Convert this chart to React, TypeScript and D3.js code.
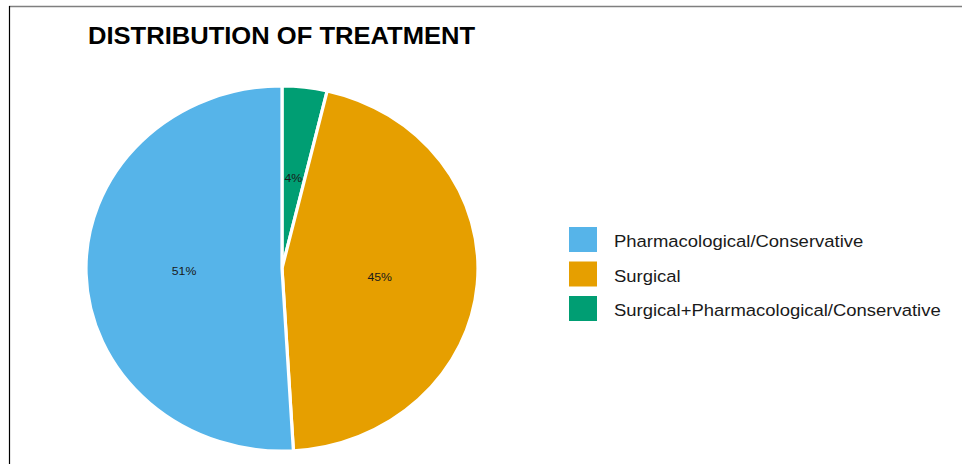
import { arc as d3Arc, pie as d3Pie, scaleOrdinal, type PieArcDatum } from "d3";

// values (counts give 50.9% / 45.4% / 3.7%)
const categories = [
  "Pharmacological/Conservative",
  "Surgical",
  "Surgical+Pharmacological/Conservative",
];
const counts = [55, 49, 4];
const sliceLabels = ["51%", "45%", "4%"];
const palette = ["#56B4E9", "#E69F00", "#009E73"];

const title = "DISTRIBUTION OF TREATMENT";

interface Slice {
  category: string;
  value: number;
  label: string;
}

const width = 962;
const height = 464;
const cx = 282;
const cy = 268.5;
const ry = 182.5;
// the source image is a little wider than tall, so everything is stretched in x
const sx = 196 / 182.5;

export default function App() {
  const slices: Slice[] = categories.map((c, i) => ({
    category: c,
    value: counts[i],
    label: sliceLabels[i],
  }));

  const color = scaleOrdinal<string, string>().domain(categories).range(palette);

  // clockwise from 12 o'clock: last category first, like ggplot's polar stack
  const pieGen = d3Pie<Slice>()
    .value((d) => d.value)
    .sort(null);
  const arcs = pieGen([...slices].reverse());

  const arcGen = d3Arc<PieArcDatum<Slice>>().innerRadius(0).outerRadius(ry);

  const legendX = 569;
  const legendY = 227;
  const legendStep = 34.5;

  return (
    <svg
      width={width}
      height={height}
      style={{ position: "absolute", left: 0, top: 0, background: "#fff" }}
      fontFamily="'Liberation Sans', Arial, sans-serif"
    >
      <line x1={9} x2={width} y1={6.5} y2={6.5} stroke="#7f7f7f" strokeWidth={1.4} />
      <line x1={9.5} x2={9.5} y1={6} y2={height} stroke="#000" strokeWidth={1.2} />

      <text
        transform={`translate(88,44) scale(${sx},1)`}
        fontSize={23.8}
        fontWeight="bold"
        fill="#000"
      >
        {title}
      </text>

      <g transform={`translate(${cx},${cy}) scale(${sx},1)`}>
        {arcs.map((a) => (
          <path
            key={a.data.category}
            d={arcGen(a) ?? ""}
            fill={color(a.data.category)}
            stroke="#fff"
            strokeWidth={3}
            strokeLinejoin="round"
          />
        ))}
      </g>

      {arcs.map((a) => {
        const [x, y] = arcGen.centroid(a);
        return (
          <text
            key={`lab-${a.data.category}`}
            transform={`translate(${cx + x * sx},${cy + y}) scale(${sx},1)`}
            textAnchor="middle"
            dy="0.36em"
            fontSize={11.4}
            fill="#1a1a1a"
          >
            {a.data.label}
          </text>
        );
      })}

      {categories.map((c, i) => (
        <g key={`leg-${c}`} transform={`translate(${legendX},${legendY + i * legendStep})`}>
          <rect width={28} height={25} fill={color(c)} />
          <text
            transform={`translate(45,20.3) scale(${sx},1)`}
            fontSize={17.2}
            fill="#1a1a1a"
          >
            {c}
          </text>
        </g>
      ))}
    </svg>
  );
}
